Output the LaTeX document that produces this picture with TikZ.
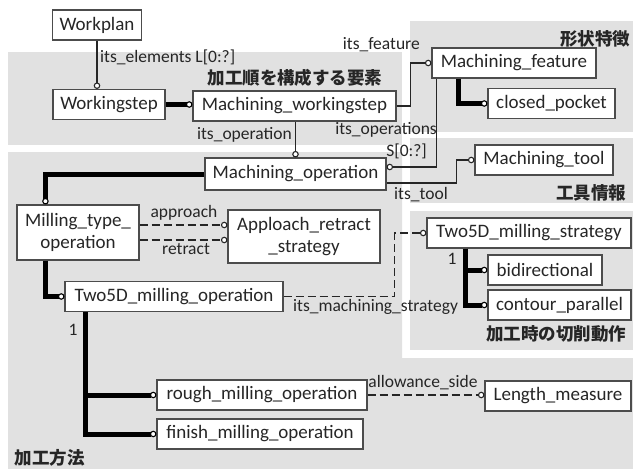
\documentclass[tikz,border=0pt]{standalone}
\usepackage{fontspec}
\setmainfont{Carlito}
\newfontfamily\jpfont{Noto Sans CJK JP}
\usetikzlibrary{arrows.meta}
\definecolor{regiongray}{HTML}{E1E1E1}
\definecolor{inkgray}{HTML}{262626}
\tikzset{
  >={Circle[open, fill=white, line width=1.1pt, length=6.5pt]},
  entity/.style={draw=black!70, fill=white, line width=1.1pt, inner sep=2pt,
    minimum height=30pt, font=\fontsize{19}{22}\selectfont, text=inkgray, align=center},
  rel/.style={->, line width=1.2pt, draw=inkgray},
  dashrel/.style={rel, dash pattern=on 8pt off 4pt},
  subrel/.style={->, line width=5pt, draw=black},
  attr/.style={font=\fontsize{17.5}{20}\selectfont, text=inkgray, inner sep=0pt},
  area/.style={font=\jpfont\bfseries\fontsize{17.5}{20}\selectfont, text=inkgray, inner sep=0pt},
}

\begin{document}
\begin{tikzpicture}[x=1pt, y=-1pt]
    \useasboundingbox (0,0) rectangle (633,469);
    \fill[white] (0,0) rectangle (633,469);
    % grey areas
    \fill[regiongray] (8,52) rectangle (402,145);
    \fill[regiongray] (410,21) rectangle (633,132);
    \fill[regiongray] (410,138) rectangle (633,203);
    \fill[regiongray] (410,211) rectangle (633,350);
    \fill[regiongray] (8,152) -- (402,152) -- (402,358) -- (633,358)
                      -- (633,469) -- (8,469) -- cycle;
    \node[area] (t_steps)   at (295,78)  {加工順を構成する要素};
    \node[area] (t_feature) at (595,39)  {形状特徴};
    \node[area] (t_tool)    at (591,193) {工具情報};
    \node[area] (t_motion)  at (556,334) {加工時の切削動作};
    \node[area] (t_method)  at (50,458)  {加工方法};
    % entities
    \node[entity, minimum width=89pt]  (wplan)    at (97,25)      {Workplan};
    \node[entity, minimum width=112pt] (wstep)    at (109,104.5)  {Workingstep};
    \node[entity, minimum width=203pt] (mws)      at (294.5,106)  {Machining\_workingstep};
    \node[entity, minimum width=164pt] (mfeat)    at (514,63)     {Machining\_feature};
    \node[entity, minimum width=127pt] (pocket)   at (551.5,103.5){closed\_pocket};
    \node[entity, minimum width=181pt, minimum height=32pt]
                                       (mop)      at (295.5,174)  {Machining\_operation};
    \node[entity, minimum width=138pt] (tool)     at (544,160)    {Machining\_tool};
    \node[entity, minimum width=122pt, minimum height=55pt]
                                       (milltype) at (78,232.5)   {Milling\_type\_\\operation};
    \node[entity, minimum width=152pt, minimum height=53pt]
                                       (appr)     at (304,236.5)  {Apploach\_retract\\\_strategy};
    \node[entity, minimum width=218pt] (tdop)     at (174,296.5)  {Two5D\_milling\_operation};
    \node[entity, minimum width=204pt] (tdstr)    at (529,233)    {Two5D\_milling\_strategy};
    \node[entity, minimum width=114pt] (bidir)    at (545,270)    {bidirectional};
    \node[entity, minimum width=143pt] (contour)  at (559.5,305)  {contour\_parallel};
    \node[entity, minimum width=210pt] (rough)    at (262,395)    {rough\_milling\_operation};
    \node[entity, minimum width=206pt] (finish)   at (260,434)    {finish\_milling\_operation};
    \node[entity, minimum width=146pt] (length)   at (558,396)    {Length\_measure};
    % relations
    \draw[rel] (wplan.south) -- (wplan.south |- wstep.north);
    \draw[subrel] (wstep.east) -- (wstep.east -| mws.west);
    \draw[rel] (mws.east) -- ++(14,0) |- (mfeat.west);
    \draw[rel] (mop.north |- mws.south) -- (mop.north);
    \draw[rel] ([xshift=5pt]mfeat.south west) |- ([yshift=7pt]mop.east);
    \draw[rel] ([yshift=-9pt]mop.east) -- ++(70,0) |- (tool.west);
    \draw[subrel] ([xshift=27pt]mfeat.south west) |- (pocket.west);
    \draw[subrel] (mop.west) -| ([xshift=29pt]milltype.north west);
    \draw[dashrel] ([yshift=7.5pt]milltype.east) -- ([yshift=11.5pt]appr.west);
    \draw[dashrel] ([yshift=-7.5pt]milltype.east) -- ([yshift=-3.5pt]appr.west);
    \draw[subrel] ([xshift=29pt]milltype.south west) |- (tdop.west);
    \draw[dashrel] (tdop.east) -- ++(111,0) |- (tdstr.west);
    \draw[subrel] ([xshift=39pt]tdstr.south west) |- (bidir.west);
    \draw[subrel] ([xshift=39pt]tdstr.south west) |- (contour.west);
    \draw[subrel] ([xshift=21pt]tdop.south west) |- (rough.west);
    \draw[subrel] ([xshift=21pt]tdop.south west) |- (finish.west);
    \draw[dashrel] (rough.east) -- (rough.east -| length.west);
    % attribute labels
    \node[attr, anchor=west] (l_elem)    at (100,57)  {its\_elements L[0:?]};
    \node[attr, anchor=east] (l_op)      at (292,135) {its\_operation};
    \node[attr, anchor=east] (l_feat)    at (420,45)  {its\_feature};
    \node[attr, anchor=east] (l_ops)     at (437,130) {its\_operations};
    \node[attr, anchor=east] (l_set)     at (427,151) {S[0:?]};
    \node[attr, anchor=west] (l_tool)    at (394,195) {its\_tool};
    \node[attr]              (l_appr)    at (184,213) {approach};
    \node[attr]              (l_retr)    at (186,249) {retract};
    \node[attr, anchor=west] (l_strat)   at (293,307) {its\_machining\_strategy};
    \node[attr]              (l_one_a)   at (452,259) {1};
    \node[attr]              (l_one_b)   at (73,330)  {1};
    \node[attr]              (l_allow)   at (423,383) {allowance\_side};
\end{tikzpicture}
\end{document}
